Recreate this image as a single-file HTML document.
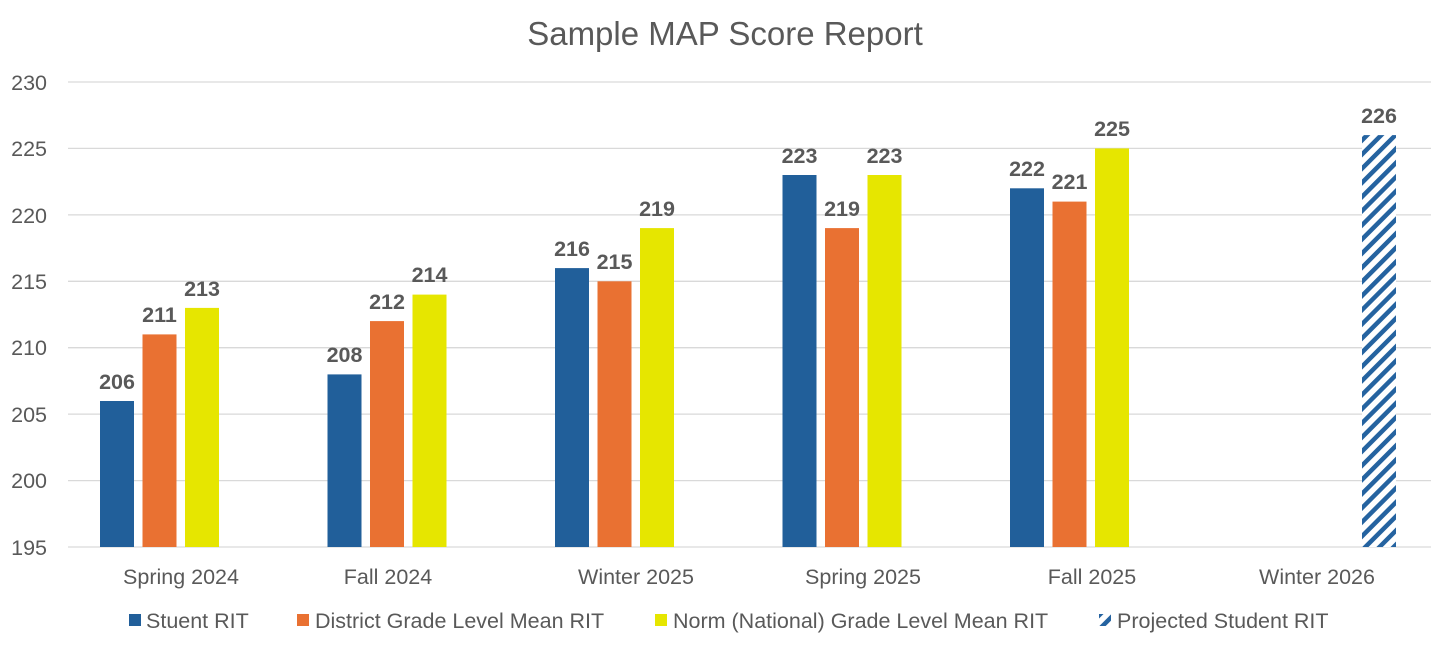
<!DOCTYPE html>
<html><head><style>
html,body{margin:0;padding:0;background:#fff;}
svg{display:block;font-family:"Liberation Sans",sans-serif;}
</style></head><body>
<svg width="1450" height="650" xmlns="http://www.w3.org/2000/svg">
<defs>
<pattern id="hatch" patternUnits="userSpaceOnUse" width="10" height="10" patternTransform="rotate(45)">
<rect width="10" height="10" fill="#fff"/>
<rect width="4.5" height="10" fill="#2563a0"/>
</pattern>
</defs>
<text x="725" y="45" text-anchor="middle" font-size="33" fill="#595959">Sample MAP Score Report</text>
<g stroke="#d9d9d9" stroke-width="1.3">
<line x1="68" x2="1431" y1="82" y2="82"/>
<line x1="68" x2="1431" y1="148.4" y2="148.4"/>
<line x1="68" x2="1431" y1="214.9" y2="214.9"/>
<line x1="68" x2="1431" y1="281.3" y2="281.3"/>
<line x1="68" x2="1431" y1="347.7" y2="347.7"/>
<line x1="68" x2="1431" y1="414.1" y2="414.1"/>
<line x1="68" x2="1431" y1="480.6" y2="480.6"/>
<line x1="68" x2="1431" y1="547" y2="547"/>
</g>
<g font-size="21.5" fill="#595959" text-anchor="end">
<text x="47" y="90">230</text><text x="47" y="156">225</text><text x="47" y="223">220</text>
<text x="47" y="289">215</text><text x="47" y="355">210</text><text x="47" y="422">205</text>
<text x="47" y="488">200</text><text x="47" y="555">195</text>
</g>
<g>
<rect x="100" y="401" width="34" height="146" fill="#215f9a"/>
<rect x="327.5" y="374.4" width="34" height="172.6" fill="#215f9a"/>
<rect x="555" y="268.1" width="34" height="278.9" fill="#215f9a"/>
<rect x="782.5" y="175.0" width="34" height="372" fill="#215f9a"/>
<rect x="1010" y="188.3" width="34" height="358.7" fill="#215f9a"/>
<rect x="142.5" y="334.4" width="34" height="212.6" fill="#e97132"/>
<rect x="370" y="321.1" width="34" height="225.9" fill="#e97132"/>
<rect x="597.5" y="281.3" width="34" height="265.7" fill="#e97132"/>
<rect x="825" y="228.1" width="34" height="318.9" fill="#e97132"/>
<rect x="1052.5" y="201.6" width="34" height="345.4" fill="#e97132"/>
<rect x="185" y="307.9" width="34" height="239.1" fill="#e6e600"/>
<rect x="412.5" y="294.6" width="34" height="252.4" fill="#e6e600"/>
<rect x="640" y="228.1" width="34" height="318.9" fill="#e6e600"/>
<rect x="867.5" y="175.0" width="34" height="372" fill="#e6e600"/>
<rect x="1095" y="148.4" width="34" height="398.6" fill="#e6e600"/>
<rect x="1362" y="135.1" width="34" height="411.9" fill="url(#hatch)"/>
</g>
<g font-size="21.5" font-weight="bold" fill="#595959" text-anchor="middle">
<text x="117" y="389">206</text><text x="344.5" y="362">208</text><text x="572" y="256">216</text><text x="799.5" y="163">223</text><text x="1027" y="176">222</text>
<text x="159.5" y="322">211</text><text x="387" y="309">212</text><text x="614.5" y="269">215</text><text x="842" y="216">219</text><text x="1069.5" y="189">221</text>
<text x="202" y="296">213</text><text x="429.5" y="282">214</text><text x="657" y="216">219</text><text x="884.5" y="163">223</text><text x="1112" y="136">225</text>
<text x="1379" y="123">226</text>
</g>
<g font-size="21.5" fill="#595959" text-anchor="middle">
<text x="181" y="584">Spring 2024</text><text x="388" y="584">Fall 2024</text><text x="636" y="584">Winter 2025</text>
<text x="863" y="584">Spring 2025</text><text x="1092" y="584">Fall 2025</text><text x="1317" y="584">Winter 2026</text>
</g>
<g font-size="21.5" fill="#595959">
<rect x="129" y="614" width="12" height="12" fill="#215f9a"/><text x="146" y="628">Stuent RIT</text>
<rect x="297" y="614" width="12" height="12" fill="#e97132"/><text x="315" y="628">District Grade Level Mean RIT</text>
<rect x="655" y="614" width="12" height="12" fill="#e6e600"/><text x="673" y="628">Norm (National) Grade Level Mean RIT</text>
<rect x="1099" y="614" width="12" height="12" fill="url(#hatch)"/><text x="1117" y="628">Projected Student RIT</text>
</g>
</svg>
</body></html>
